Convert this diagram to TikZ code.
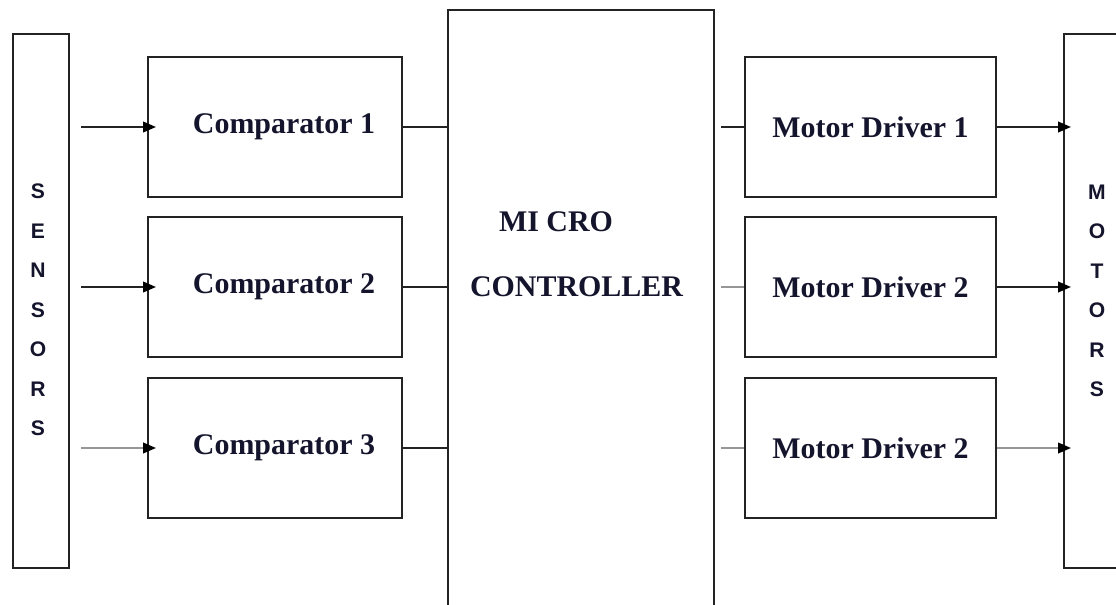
\documentclass[tikz,border=0pt]{standalone}
\usepackage{fontspec}
\setmainfont{Liberation Serif}
\newfontfamily\lettersfont{Liberation Sans}
\usetikzlibrary{positioning,arrows.meta,calc}
\definecolor{ink}{RGB}{20,20,45}
\definecolor{wire}{RGB}{35,35,35}
\definecolor{faint}{RGB}{150,150,150}
\tikzset{
  block/.style={draw=wire, line width=1.4pt, minimum width=#1, minimum height=3.5cm, inner sep=0pt, text=ink, font=\fontsize{21.3}{24}\selectfont\bfseries},
  block/.default={6.35cm},
  comp/.style={block, execute at begin node=\hspace*{0.45cm}},
  tall/.style={draw=wire, line width=1.4pt, minimum width=#1, minimum height=13.35cm, inner sep=0pt},
  letters/.style={align=center, text=ink, font=\lettersfont\fontsize{15}{28.1}\selectfont\bfseries},
  mcutitle/.style={align=left, text=ink, font=\fontsize{21.3}{46.2}\selectfont\bfseries},
  arrow/.style={-{Triangle[length=0.32cm, width=0.26cm, color=black]}, line width=1.5pt, draw=#1},
  arrow/.default={wire},
  link/.style={line width=1.5pt, draw=#1},
  link/.default={wire}
}
\begin{document}
\begin{tikzpicture}
  \path[use as bounding box, clip] (0,0) rectangle (27.9,-15.125);
  % input side
  \node[tall=1.4cm] (sensors) at (1.025,-7.525) {};
  \node[letters] (sensorstext) at (0.95,-7.75) {S\\E\\N\\S\\O\\R\\S};
  \node[comp] (comp1) at (6.875,-3.175) {Comparator 1};
  \node[comp] (comp2) at (6.875,-7.175) {Comparator 2};
  \node[comp] (comp3) at (6.875,-11.2) {Comparator 3};
  % controller, runs off the bottom edge
  \node[block=6.65cm, minimum height=16cm] (mcu) at (14.525,-8.25) {};
  \node[mcutitle] (mcutext) at (14.4125,-6.3625) {\hspace*{0.725cm}MI CRO\\CONTROLLER};
  % output side
  \node[block=6.275cm] (drv1) at (21.7625,-3.175) {Motor Driver 1};
  \node[block=6.275cm] (drv2) at (21.7625,-7.175) {Motor Driver 2};
  \node[block=6.275cm] (drv3) at (21.7625,-11.2) {Motor Driver 2};
  \node[tall=2.15cm] (motors) at (27.675,-7.525) {};
  \node[letters] (motorstext) at (27.425,-7.275) {M\\O\\T\\O\\R\\S};
  \foreach \i/\a/\b in {1/wire/wire,2/wire/faint,3/faint/faint} {
    \draw[arrow=\a, shorten <=0.275cm, shorten >=-0.225cm] (sensors.east |- comp\i.west) -- (comp\i.west);
    \draw[link] (comp\i.east) -- (mcu.west |- comp\i.east);
    \draw[link=\b, shorten <=0.15cm] (mcu.east |- drv\i.west) -- (drv\i.west);
    \draw[arrow=\a, shorten >=-0.2cm] (drv\i.east) -- (motors.west |- drv\i.east);
  }
\end{tikzpicture}
\end{document}
